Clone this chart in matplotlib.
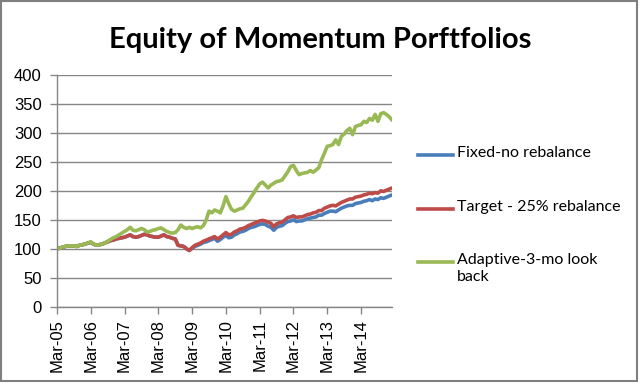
import matplotlib
matplotlib.use("Agg")
import matplotlib.pyplot as plt
from matplotlib.lines import Line2D
from matplotlib.patches import Rectangle

title = "Equity of Momentum Porftfolios"
series_names = ["Fixed-no rebalance", "Target - 25% rebalance", "Adaptive-3-mo look\nback"]
tick_labels = ["Mar-05", "Mar-06", "Mar-07", "Mar-08", "Mar-09",
               "Mar-10", "Mar-11", "Mar-12", "Mar-13", "Mar-14"]
y_ticks = [0, 50, 100, 150, 200, 250, 300, 350, 400]

# monthly values, Mar-05 .. Feb-15
red_early = [100, 101, 103, 104, 105, 105, 105, 104, 106, 107, 108, 110,
             111, 108, 106, 107, 108, 110, 112, 114, 115, 117, 118, 119,
             120, 122, 124, 121, 120, 121, 123, 125, 124, 122, 121, 120,
             120, 122, 124, 121, 120, 118, 117, 106, 105, 104, 100, 97]

target = red_early + [
    102, 106, 108, 110, 113, 115, 117, 119, 121, 117, 120, 124,
    128, 124, 125, 129, 131, 134, 135, 137, 140, 142, 144, 146,
    148, 149, 148, 146, 144, 138, 143, 145, 146, 150, 154, 155,
    157, 154, 155, 155, 157, 159, 160, 162, 163, 166, 166, 170,
    172, 174, 175, 174, 177, 180, 182, 184, 186, 186, 189, 190,
    191, 193, 194, 196, 195, 197, 196, 200, 199, 201, 203, 205]

fixed = red_early + [
    101, 104, 106, 108, 111, 112, 114, 116, 118, 113, 116, 120,
    123, 119, 120, 124, 126, 129, 130, 132, 135, 137, 138, 140,
    142, 143, 142, 139, 137, 132, 137, 139, 140, 144, 147, 148,
    150, 147, 148, 148, 150, 152, 153, 154, 155, 158, 158, 161,
    163, 165, 165, 164, 167, 170, 172, 174, 175, 175, 178, 179,
    180, 182, 183, 185, 183, 186, 185, 188, 187, 189, 191, 193]

adaptive = [
    100, 101, 103, 104, 105, 105, 105, 104, 106, 107, 108, 110,
    112, 108, 106, 107, 108, 110, 113, 116, 119, 121, 124, 127,
    130, 133, 137, 132, 131, 133, 135, 133, 129, 130, 132, 133,
    135, 136, 133, 130, 128, 127, 128, 133, 141, 137, 135, 137,
    135, 137, 138, 136, 140, 150, 165, 162, 167, 165, 162, 174,
    190, 178, 168, 165, 167, 169, 170, 176, 182, 190, 197, 205,
    212, 215, 210, 205, 210, 213, 216, 217, 219, 226, 233, 242,
    244, 235, 228, 230, 231, 232, 235, 232, 236, 240, 254, 265,
    277, 278, 280, 288, 280, 294, 298, 304, 308, 297, 311, 313,
    314, 320, 318, 325, 322, 332, 320, 333, 335, 332, 328, 322]

colors = ["#4A7EBB", "#BE4B48", "#98B954"]
W, H = 640, 383
fig = plt.figure(figsize=(W / 100, H / 100), dpi=100)
fig.patch.set_facecolor("white")

def fx(px):
    return px / W

def fy(py):
    return 1 - py / H

ax = fig.add_axes([fx(57), fy(306.7), fx(392) - fx(57), fy(75) - fy(306.7)])
x = list(range(len(adaptive)))
for vals, c in zip([fixed, target, adaptive], colors):
    ax.plot(x, vals, color=c, lw=2.6, solid_joinstyle="round", solid_capstyle="round")

ax.set_xlim(0, len(adaptive) - 1)
ax.set_ylim(0, 400)
ax.set_yticks(y_ticks)
ax.set_xticks([12 * i for i in range(len(tick_labels))])
ax.set_xticklabels(tick_labels, rotation=90, fontsize=12, family="Liberation Sans")
ax.set_yticklabels([str(v) for v in y_ticks], fontsize=12, family="Liberation Sans")
ax.grid(axis="y", color="#868686", lw=1)
ax.set_axisbelow(True)
for s in ["top", "right"]:
    ax.spines[s].set_visible(False)
for s in ["left", "bottom"]:
    ax.spines[s].set_color("#868686")
    ax.spines[s].set_linewidth(1)
ax.tick_params(axis="both", direction="out", length=5, color="#868686", width=1)
ax.tick_params(axis="y", pad=6)
ax.tick_params(axis="x", pad=4)

fig.text(0.5, fy(40), title, ha="center", va="center", fontsize=21,
         fontweight="bold", family="Lato")

leg_y = [155, 209, 262]
for name, c, yy in zip(series_names, colors, leg_y):
    fig.add_artist(Line2D([fx(418), fx(453)], [fy(yy), fy(yy)], color=c, lw=2.6))
    fig.text(fx(457), fy(yy - 9), name, ha="left", va="top", fontsize=11.5,
             family="Lato", linespacing=1.3)

fig.add_artist(Rectangle((fx(1), fy(381)), fx(636), fy(1) - fy(381),
                         fill=False, edgecolor="#7f7f7f", lw=1.5,
                         transform=fig.transFigure))

fig.savefig("out.png", dpi=100)
